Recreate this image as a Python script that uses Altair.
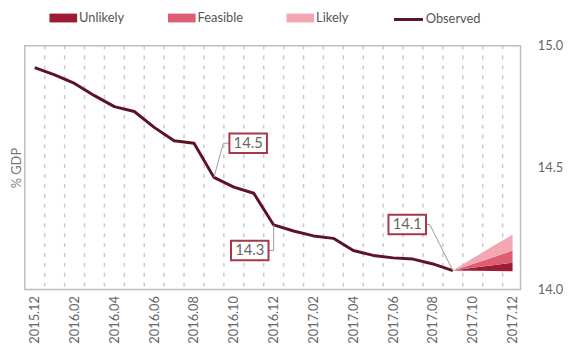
import json
import altair as alt
import pandas as pd

# ---------------- data ----------------
months = ["2015.12", "2016.01", "2016.02", "2016.03", "2016.04", "2016.05",
          "2016.06", "2016.07", "2016.08", "2016.09", "2016.10", "2016.11",
          "2016.12", "2017.01", "2017.02", "2017.03", "2017.04", "2017.05",
          "2017.06", "2017.07", "2017.08", "2017.09", "2017.10", "2017.11",
          "2017.12"]
observed = [14.91, 14.88, 14.845, 14.795, 14.75, 14.73, 14.665, 14.61, 14.60,
            14.46, 14.42, 14.395, 14.265, 14.24, 14.22, 14.21, 14.16, 14.14,
            14.13, 14.125, 14.105, 14.078]

fan_months = ["2017.09", "2017.10", "2017.11", "2017.12"]
fan_lower = [14.078, 14.077, 14.076, 14.075]
unlikely_upper = [14.078, 14.09, 14.10, 14.11]
feasible_upper = [14.078, 14.105, 14.132, 14.16]
likely_upper = [14.078, 14.128, 14.178, 14.225]

band_names = ["Unlikely", "Feasible", "Likely"]
band_colors = ["#9c1d33", "#dd5e72", "#f2a7b3"]
observed_color = "#5c1424"

tick_labels = months[::2]
y_ticks = [14.0, 14.5, 15.0]

ann_labels = ["14.5", "14.3", "14.1"]
ann_box_x = [10.72, 10.80, 18.71]
ann_box_y = [14.60, 14.16, 14.267]
ann_elbow_x = [9.47, 12.0, 19.84]
ann_point_month = ["2016.09", "2016.12", "2017.09"]

# ---------------- tables ----------------
obs_df = pd.DataFrame({"t": list(range(len(observed))), "v": observed,
                       "series": "Observed"})
# dashed separators lie between consecutive months
grid_df = pd.DataFrame({"t": [i + 0.5 for i in range(len(months) - 1)]})

fan_rows = []
bounds = [fan_lower, unlikely_upper, feasible_upper, likely_upper]
for b, name in enumerate(band_names):
    for i, m in enumerate(fan_months):
        fan_rows.append({"t": months.index(m), "v": bounds[b][i],
                         "v2": bounds[b + 1][i], "band": name})
fan_df = pd.DataFrame(fan_rows)

lead_rows = []
box_rows = []
for k, lab in enumerate(ann_labels):
    pi = months.index(ann_point_month[k])
    pts = [(ann_box_x[k], ann_box_y[k]), (ann_elbow_x[k], ann_box_y[k]),
           (pi, observed[pi])]
    for s, (tx, vy) in enumerate(pts):
        lead_rows.append({"t": tx, "v": vy, "lab": lab, "seq": s})
    box_rows.append({"t": ann_box_x[k], "v": ann_box_y[k], "lab": lab})
lead_df = pd.DataFrame(lead_rows)
box_df = pd.DataFrame(box_rows)

# ---------------- scales / axes ----------------
W, H = 502, 247
FONT = "Lato"
xscale = alt.Scale(domain=[-0.5, 24.4], nice=False, zero=False)
yscale = alt.Scale(domain=[14.0, 15.0], nice=False, zero=False)

x_axis = alt.Axis(
    values=list(range(0, len(months), 2)),
    labelExpr=json.dumps(tick_labels) + "[datum.value / 2]",
    labelAngle=-90, labelFontSize=13, labelColor="#666", labelFont=FONT,
    labelPadding=6, labelOverlap=False, labelBound=False,
    ticks=False, domain=False, title=None, grid=False,
)
y_axis = alt.Axis(
    orient="right", values=y_ticks, format=".1f",
    labelFontSize=13, labelColor="#666", labelFont=FONT, labelPadding=17,
    ticks=False, domain=False, grid=False, title=None,
)
title_axis = alt.Axis(
    orient="left", labels=False, ticks=False, domain=False, grid=False,
    title="% GDP", titleFont=FONT, titleFontSize=13,
    titleFontWeight="normal", titleColor="#777", titlePadding=1,
)

X = alt.X("t:Q", scale=xscale, axis=x_axis)
Y = alt.Y("v:Q", scale=yscale, axis=y_axis)

rect_path = "M-2,-0.64H2V0.64H-2Z"
line_path = "M-2.1,0H2.1"


def legend_at(x, path):
    return alt.Legend(orient="none", legendX=x, legendY=-35,
                      direction="horizontal", title=None,
                      symbolType=path, symbolSize=196, symbolOpacity=1,
                      symbolStrokeWidth=3 if path == line_path else 0,
                      labelFont=FONT, labelFontSize=13, labelColor="#555",
                      labelOffset=9)


grid = alt.Chart(grid_df).mark_rule(
    color="#c9c9c9", strokeWidth=1.5, strokeDash=[4, 6], opacity=1
).encode(x=X)

legend_x = [32, 152, 272]
bands = []
for name, col, lx in zip(band_names, band_colors, legend_x):
    bands.append(
        alt.Chart(fan_df).transform_filter(alt.datum.band == name)
        .mark_area(opacity=1, strokeWidth=0).encode(
            x=X, y=Y, y2="v2:Q",
            fill=alt.Fill("band:N",
                          scale=alt.Scale(domain=[name], range=[col]),
                          legend=legend_at(lx, rect_path)),
        )
    )

line = alt.Chart(obs_df).mark_line(strokeWidth=3, strokeJoin="round").encode(
    x=X, y=Y,
    stroke=alt.Stroke("series:N",
                      scale=alt.Scale(domain=["Observed"], range=[observed_color]),
                      legend=legend_at(380, line_path)),
)

leaders = alt.Chart(lead_df).mark_line(color="#9a9a9a", strokeWidth=1).encode(
    x=X, y=Y, detail="lab:N", order="seq:Q",
)

box_path = "M-1,-0.52H1V0.52H-1Z"
boxes = alt.Chart(box_df).mark_point(
    shape=box_path, size=1444, filled=True, fill="white", stroke="#a8354a",
    strokeWidth=2, opacity=1,
).encode(x=X, y=Y)

texts = alt.Chart(box_df).mark_text(
    font=FONT, fontSize=15, color="#666", align="center", baseline="middle",
).encode(x=X, y=Y, text="lab:N")

helper = alt.Chart(obs_df).mark_point(opacity=0).encode(
    x=X,
    y=alt.Y("v:Q", scale=yscale, axis=title_axis),
)

main = alt.layer(grid, *bands, line, leaders, boxes, texts).resolve_scale(
    fill="independent"
)

chart = alt.layer(helper, main).resolve_axis(y="independent").properties(
    width=W, height=H,
    padding={"left": 3, "top": 1, "right": 0, "bottom": 0},
).configure_view(stroke="#bdbdbd", strokeWidth=1.5)

chart.save("out.html", embed_options={"renderer": "svg", "actions": False})
